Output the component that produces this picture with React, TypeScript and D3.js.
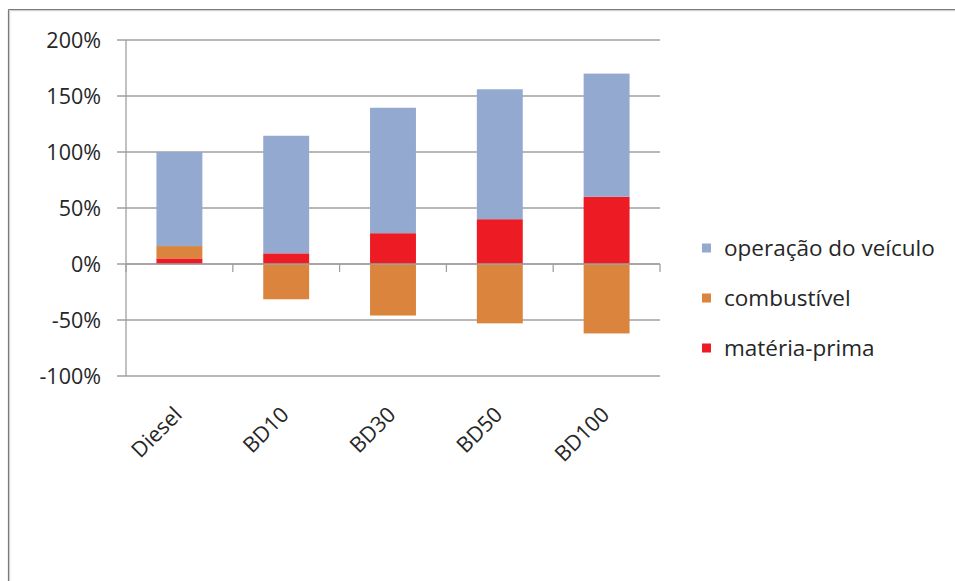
import React from "react";
import * as d3 from "d3";

// Categories and series (percent values)
const categories = ["Diesel", "BD10", "BD30", "BD50", "BD100"];
const materiaPrima = [5, 9.5, 27.5, 40, 60];
const combustivel = [11, -31.5, -46, -53, -62];
const operacaoVeiculo = [84, 105, 112, 116, 110];

const seriesKeys = ["materia", "combustivel", "operacao"];
const seriesLabels = ["matéria-prima", "combustível", "operação do veículo"];
const seriesColors = ["#ED1C24", "#DB843D", "#94A9CF"];

const yTicks = [-100, -50, 0, 50, 100, 150, 200];

const W = 955;
const H = 581;
const plot = { left: 126, right: 660, top: 40, bottom: 376 };
const FONT = "'Open Sans', 'Noto Sans', sans-serif";
const TEXT = "#262626";
const GRID = "#a0a0a0";

export default function App() {
  const rows = categories.map((c, i) => ({
    cat: c,
    materia: materiaPrima[i],
    combustivel: combustivel[i],
    operacao: operacaoVeiculo[i],
  }));

  const x = d3
    .scaleBand<string>()
    .domain(categories)
    .range([plot.left, plot.right])
    .paddingInner(0.57)
    .paddingOuter(0.285);

  const y = d3.scaleLinear().domain([-100, 200]).range([plot.bottom, plot.top]);

  const stack = d3
    .stack<any>()
    .keys(seriesKeys)
    .order(d3.stackOrderNone)
    .offset(d3.stackOffsetDiverging);
  const layers = stack(rows);

  const step = x.step();
  const boundaries = d3.range(categories.length + 1).map((i) => plot.left + i * step);

  // legend lists series top-down in reverse stacking order
  const legendOrder = [2, 1, 0];
  const legendY = d3.scalePoint<number>().domain(legendOrder).range([248, 348]);

  return (
    <svg
      width={W}
      height={H}
      style={{ position: "absolute", left: 0, top: 0, background: "#fff" }}
      fontFamily={FONT}
    >
      <rect x={0} y={0} width={W} height={H} fill="#fff" />
      {/* chart frame */}
      <line x1={8.5} y1={9.5} x2={W} y2={9.5} stroke="#7a7a7a" strokeWidth={1.2} />
      <line x1={8.5} y1={9.5} x2={8.5} y2={H} stroke="#7a7a7a" strokeWidth={1.2} />
      <line x1={9.5} y1={10.7} x2={W} y2={10.7} stroke="#c8c8c8" strokeWidth={1} />
      <line x1={9.7} y1={10.5} x2={9.7} y2={H} stroke="#c8c8c8" strokeWidth={1} />

      {/* horizontal gridlines with outside tick marks */}
      {yTicks.map((t) => (
        <line
          key={t}
          x1={plot.left - 9}
          x2={plot.right}
          y1={y(t)}
          y2={y(t)}
          stroke={GRID}
          strokeWidth={1.3}
        />
      ))}
      {/* vertical axis */}
      <line
        x1={plot.left}
        x2={plot.left}
        y1={plot.top}
        y2={plot.bottom}
        stroke={GRID}
        strokeWidth={1.3}
      />

      {/* stacked bars */}
      {layers.map((layer, li) => (
        <g key={layer.key} fill={seriesColors[li]}>
          {layer.map((d, i) => {
            const y0 = y(d[0]);
            const y1 = y(d[1]);
            return (
              <rect
                key={i}
                x={x(categories[i])}
                width={x.bandwidth()}
                y={Math.min(y0, y1)}
                height={Math.abs(y0 - y1)}
              />
            );
          })}
        </g>
      ))}

      {/* category axis at zero */}
      <line
        x1={plot.left}
        x2={plot.right}
        y1={y(0)}
        y2={y(0)}
        stroke={GRID}
        strokeWidth={1.3}
      />
      {boundaries.map((bx, i) => (
        <line
          key={i}
          x1={bx}
          x2={bx}
          y1={y(0)}
          y2={y(0) + 8}
          stroke={GRID}
          strokeWidth={1.3}
        />
      ))}

      {/* y tick labels */}
      {yTicks.map((t) => (
        <text
          key={t}
          x={101}
          y={y(t)}
          dy="0.36em"
          textAnchor="end"
          fontSize={21.5}
          fill={TEXT}
        >
          {`${t}%`}
        </text>
      ))}

      {/* category labels, rotated */}
      {categories.map((c) => {
        const cx = (x(c) as number) + x.bandwidth() / 2;
        return (
          <text
            key={c}
            transform={`translate(${cx + 4},${416}) rotate(-45)`}
            textAnchor="end"
            fontSize={21.5}
            fill={TEXT}
          >
            {c}
          </text>
        );
      })}

      {/* legend */}
      {legendOrder.map((si) => {
        const ly = legendY(si) as number;
        return (
          <g key={si}>
            <rect x={702} y={ly - 4.5} width={9} height={9} fill={seriesColors[si]} />
            <text x={724} y={ly} dy="0.36em" fontSize={22.5} fill={TEXT}>
              {seriesLabels[si]}
            </text>
          </g>
        );
      })}
    </svg>
  );
}
